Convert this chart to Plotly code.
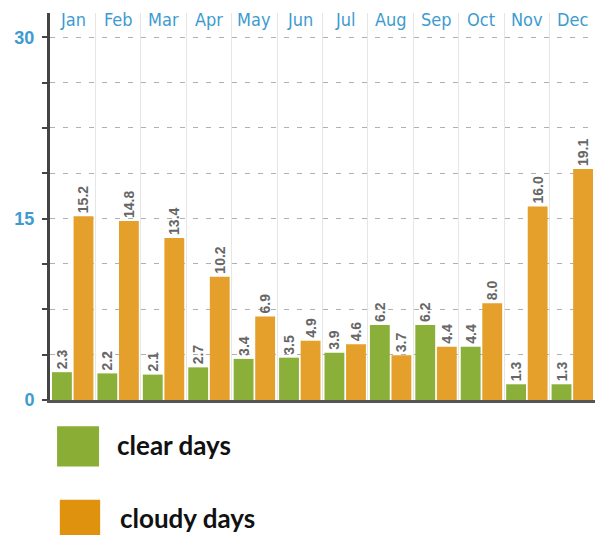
import plotly.graph_objects as go

months = ["Jan", "Feb", "Mar", "Apr", "May", "Jun", "Jul", "Aug", "Sep", "Oct", "Nov", "Dec"]
clear_days = [2.3, 2.2, 2.1, 2.7, 3.4, 3.5, 3.9, 6.2, 6.2, 4.4, 1.3, 1.3]
cloudy_days = [15.2, 14.8, 13.4, 10.2, 6.9, 4.9, 4.6, 3.7, 4.4, 8.0, 16.0, 19.1]
y_tickvals = [0, 3.75, 7.5, 11.25, 15, 18.75, 22.5, 26.25, 30]
y_ticktext = ["0", "", "", "", "15", "", "", "", "30"]

green = "#8AB03A"
orange = "#E4A02A"
label_font = dict(family="Liberation Sans, Arial", size=14, color="#666666", weight="bold")

fig = go.Figure()
fig.add_trace(go.Bar(
    x=months, y=clear_days, name="clear days",
    marker=dict(color=green, line=dict(width=0)),
    texttemplate="%{y:.1f}", textposition="outside", textangle=-90,
    textfont=label_font, cliponaxis=False,
))
fig.add_trace(go.Bar(
    x=months, y=cloudy_days, name="cloudy days",
    marker=dict(color=orange, line=dict(width=0)),
    texttemplate="%{y:.1f}", textposition="outside", textangle=-90,
    textfont=label_font, cliponaxis=False,
))

fig.update_layout(
    width=600, height=535,
    margin=dict(l=50, r=5, t=13, b=135, autoexpand=False),
    paper_bgcolor="white", plot_bgcolor="white",
    barmode="group", bargap=0.05, bargroupgap=0.08,
    showlegend=False,
    uniformtext=dict(minsize=14, mode="show"),
    xaxis=dict(
        type="category", tickson="boundaries", showgrid=True,
        gridcolor="#e6e6e6", gridwidth=1, showticklabels=False,
        ticks="", showline=True, linecolor="#555555", linewidth=3,
        zeroline=False, automargin=False,
    ),
    yaxis=dict(
        range=[0, 32], tickvals=y_tickvals, ticktext=y_ticktext,
        showgrid=True, gridcolor="#b0b0b0", griddash="5px,8px", gridwidth=1,
        ticks="outside", ticklen=5, tickwidth=2, tickcolor="#444444",
        showline=True, linecolor="#444444", linewidth=3, zeroline=False,
        tickfont=dict(family="Liberation Sans, Arial", size=18, color="#3D9BD0", weight="bold"),
        ticklabelstandoff=4, automargin=False,
    ),
    font=dict(family="Liberation Sans, Arial"),
)

for m in months:
    fig.add_annotation(
        x=m, y=0.983, xref="x", yref="paper", text=m, showarrow=False,
        font=dict(family="DejaVu Sans Condensed, Roboto", size=18, color="#3D9BD0"),
        yanchor="middle",
    )

# legend drawn below the plot
legend_items = [("clear days", "#8AAD35", -0.068, -0.172, 0.013, 0.090, 0.119, -0.116),
                ("cloudy days", "#DE920E", -0.258, -0.38, 0.018, 0.092, 0.125, -0.305)]
for name, col, y0, y1, x0, x1, tx, ty in legend_items:
    fig.add_shape(type="rect", xref="paper", yref="paper", x0=x0, x1=x1, y0=y0, y1=y1,
                  fillcolor=col, line=dict(width=0))
    fig.add_annotation(x=tx, y=ty, xref="paper", yref="paper", text="<b>" + name + "</b>",
                       showarrow=False, xanchor="left", yanchor="middle",
                       font=dict(family="Lato, Open Sans", size=26, color="#111111"))

fig.write_html("out.html", config={"displayModeBar": False},
               post_script="document.body.style.margin='0';document.body.style.padding='0';")
